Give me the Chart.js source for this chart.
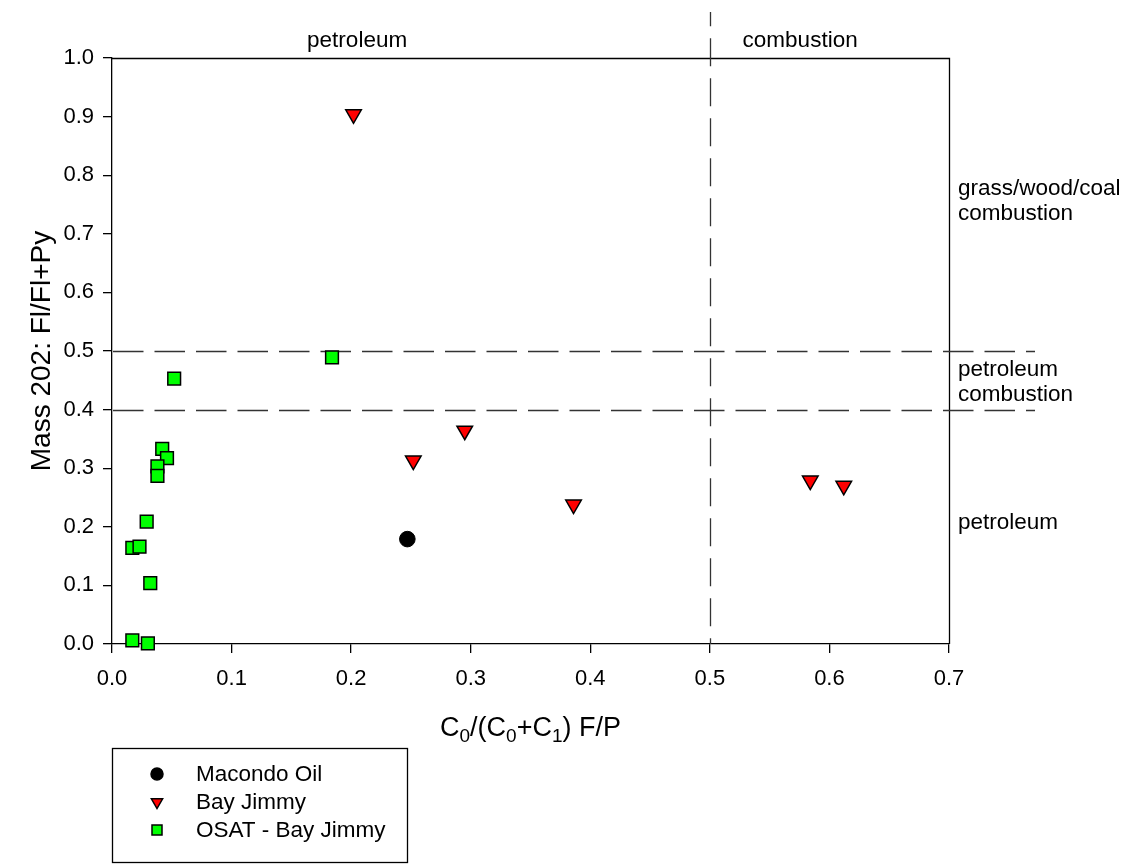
<!DOCTYPE html>
<html><head><meta charset="utf-8">
<script src="https://cdn.jsdelivr.net/npm/chart.js@4.4.1/dist/chart.umd.min.js"></script>
<style>html,body{margin:0;padding:0;background:#fff;overflow:hidden}#wrap{width:1129px;height:866px;position:relative}canvas{display:block}</style>
</head><body><div id="wrap"><canvas id="c" width="1129" height="866"></canvas></div>
<script>
// ---- data ----
const seriesNames = ['Macondo Oil', 'Bay Jimmy', 'OSAT - Bay Jimmy'];
const macondoX = [0.247];
const macondoY = [0.179];
const bayX = [0.202, 0.252, 0.295, 0.386, 0.584, 0.612];
const bayY = [0.904, 0.313, 0.364, 0.238, 0.279, 0.270];
const osatX = [0.052, 0.184, 0.042, 0.046, 0.038, 0.038, 0.029, 0.017, 0.023, 0.032, 0.017, 0.030];
const osatY = [0.453, 0.489, 0.333, 0.317, 0.303, 0.287, 0.209, 0.164, 0.166, 0.104, 0.006, 0.001];
const xTickLabels = ['0.0', '0.1', '0.2', '0.3', '0.4', '0.5', '0.6', '0.7'];
const yTickLabels = ['0.0', '0.1', '0.2', '0.3', '0.4', '0.5', '0.6', '0.7', '0.8', '0.9', '1.0'];
const hRefLines = [0.4, 0.5];
const vRefLines = [0.5];
const xTitleParts = [['C', ''], ['0', 'sub'], ['/(C', ''], ['0', 'sub'], ['+C', ''], ['1', 'sub'], [') F/P', '']];
const yTitle = 'Mass 202: Fl/Fl+Py';
const topLabels = [{text: 'petroleum', x: 0.205}, {text: 'combustion', x: 0.5755}];
const rightLabels = [
  {lines: ['grass/wood/coal', 'combustion'], y: 0.7585},
  {lines: ['petroleum', 'combustion'], y: 0.45},
  {lines: ['petroleum'], y: 0.21}
];

const FONT = "'Liberation Sans', Arial, sans-serif";
function pts(xs, ys) { return xs.map((x, i) => ({x: x, y: ys[i]})); }

function drawMarker(ctx, style, x, y, r, fill) {
  ctx.save();
  ctx.fillStyle = fill; ctx.strokeStyle = '#000'; ctx.lineWidth = 1.5;
  ctx.beginPath();
  if (style === 'circle') {
    ctx.arc(x, y, r, 0, Math.PI * 2);
  } else if (style === 'tri') {
    ctx.moveTo(x - r * 0.866, y - r / 2);
    ctx.lineTo(x + r * 0.866, y - r / 2);
    ctx.lineTo(x, y + r);
    ctx.closePath();
  } else {
    ctx.rect(x - r, y - r, 2 * r, 2 * r);
  }
  ctx.fill(); ctx.stroke();
  ctx.restore();
}

const overlay = {
  id: 'overlay',
  beforeDatasetsDraw(chart) {
    const ctx = chart.ctx, a = chart.chartArea;
    const xs = chart.scales.x, ys = chart.scales.y;
    ctx.save();
    ctx.strokeStyle = '#000'; ctx.lineWidth = 1.3;
    ctx.beginPath();
    ctx.moveTo(a.left, a.top + 0.5); ctx.lineTo(a.right + 0.5, a.top + 0.5); ctx.lineTo(a.right + 0.5, a.bottom);
    ctx.stroke();
    ctx.strokeStyle = '#333'; ctx.lineWidth = 1.3;
    ctx.setLineDash([30.5, 11]);
    ctx.lineDashOffset = 0;
    hRefLines.forEach(v => {
      const py = Math.round(ys.getPixelForValue(v)) + 0.5;
      ctx.beginPath(); ctx.moveTo(a.left + 1, py); ctx.lineTo(1035, py); ctx.stroke();
    });
    ctx.setLineDash([28, 12]);
    ctx.lineDashOffset = 13.7;
    vRefLines.forEach(v => {
      const px = Math.round(xs.getPixelForValue(v)) + 0.5;
      ctx.beginPath(); ctx.moveTo(px, 12); ctx.lineTo(px, a.bottom); ctx.stroke();
    });
    ctx.restore();
  },
  afterDraw(chart) {
    const ctx = chart.ctx, a = chart.chartArea;
    const xs = chart.scales.x, ys = chart.scales.y;
    ctx.save();
    ctx.fillStyle = '#000';
    ctx.font = '22.5px ' + FONT;
    ctx.textAlign = 'center'; ctx.textBaseline = 'alphabetic';
    topLabels.forEach(l => ctx.fillText(l.text, xs.getPixelForValue(l.x), 47));
    ctx.textAlign = 'left';
    rightLabels.forEach(l => {
      const cy = ys.getPixelForValue(l.y);
      const n = l.lines.length, lh = 25;
      l.lines.forEach((t, i) => {
        ctx.fillText(t, 958, cy + (i - (n - 1) / 2) * lh + 8);
      });
    });
    const big = '27px ' + FONT, small = '19px ' + FONT;
    let total = 0;
    xTitleParts.forEach(p => { ctx.font = p[1] ? small : big; total += ctx.measureText(p[0]).width; });
    let x = (a.left + a.right) / 2 - total / 2;
    const base = 736;
    ctx.textAlign = 'left';
    xTitleParts.forEach(p => {
      ctx.font = p[1] ? small : big;
      ctx.fillText(p[0], x, p[1] ? base + 6 : base);
      x += ctx.measureText(p[0]).width;
    });
    ctx.save();
    ctx.translate(50, (a.top + a.bottom) / 2);
    ctx.rotate(-Math.PI / 2);
    ctx.font = '28px ' + FONT; ctx.textAlign = 'center'; ctx.textBaseline = 'alphabetic';
    ctx.fillText(yTitle, 0, 0);
    ctx.restore();
    ctx.strokeStyle = '#000'; ctx.lineWidth = 1.3;
    ctx.strokeRect(112.5, 748.5, 295, 114);
    const items = [['circle', '#000', 6], ['tri', '#ff0000', 6.5], ['square', '#00ff00', 5]];
    ctx.font = '22.5px ' + FONT; ctx.textBaseline = 'middle';
    items.forEach((it, i) => {
      const cy = 774 + i * 28;
      drawMarker(ctx, it[0], 157, cy, it[2], it[1]);
      ctx.fillStyle = '#000';
      ctx.fillText(seriesNames[i], 196, cy + 1);
    });
    ctx.restore();
  }
};

new Chart(document.getElementById('c'), {
  type: 'scatter',
  data: {
    datasets: [
      {label: seriesNames[0], data: pts(macondoX, macondoY), pointStyle: 'circle', pointRadius: 7.8,
       backgroundColor: '#000', borderColor: '#000', borderWidth: 1, clip: false},
      {label: seriesNames[1], data: pts(bayX, bayY), pointStyle: 'triangle', rotation: 180, pointRadius: 9,
       backgroundColor: '#ff0000', borderColor: '#000', borderWidth: 1.5, clip: false},
      {label: seriesNames[2], data: pts(osatX, osatY), pointStyle: 'rect', pointRadius: 9,
       backgroundColor: '#00ff00', borderColor: '#000', borderWidth: 1.5, clip: false}
    ]
  },
  options: {
    responsive: false, animation: false, devicePixelRatio: 1,
    layout: {padding: {left: 0, top: 58, right: 180, bottom: 0}},
    plugins: {legend: {display: false}, tooltip: {enabled: false}},
    scales: {
      x: {
        type: 'linear', min: 0, max: 0.7,
        afterFit(s) { s.height = 222; },
        afterBuildTicks(s) { s.ticks = xTickLabels.map(t => ({value: parseFloat(t)})); },
        ticks: {callback: (v, i) => xTickLabels[i], color: '#000', font: {family: FONT, size: 22}, padding: 13, maxRotation: 0},
        grid: {drawOnChartArea: false, drawTicks: true, tickLength: 9, color: '#000', lineWidth: 1.3},
        border: {display: true, color: '#000', width: 1.3}
      },
      y: {
        type: 'linear', min: 0, max: 1,
        afterFit(s) { s.width = 112; },
        afterBuildTicks(s) { s.ticks = yTickLabels.map(t => ({value: parseFloat(t)})); },
        ticks: {callback: (v, i) => yTickLabels[i], color: '#000', font: {family: FONT, size: 22}, padding: 9},
        grid: {drawOnChartArea: false, drawTicks: true, tickLength: 9, color: '#000', lineWidth: 1.3},
        border: {display: true, color: '#000', width: 1.3}
      }
    }
  },
  plugins: [overlay]
});
</script></body></html>
